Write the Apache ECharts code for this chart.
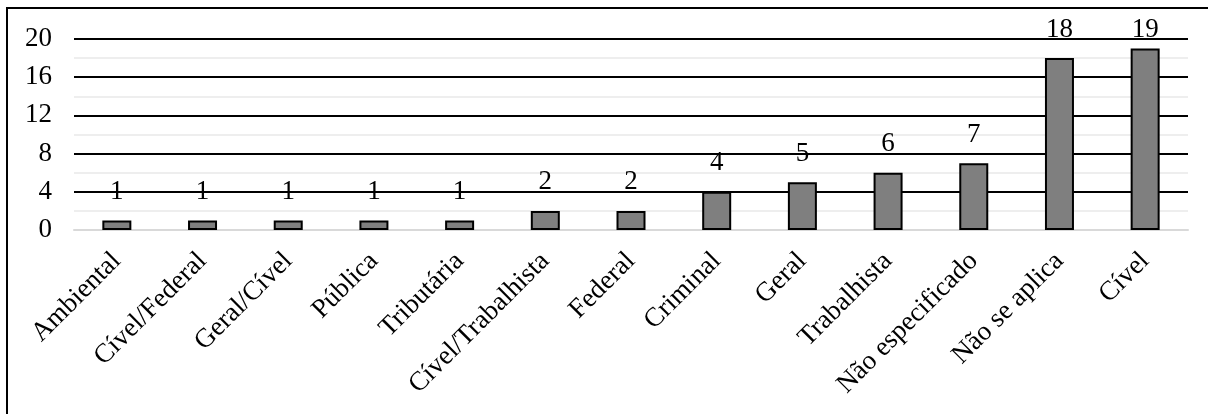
<!DOCTYPE html>
<html>
<head>
<meta charset="utf-8">
<script src="https://cdn.jsdelivr.net/npm/echarts@6/dist/echarts.min.js"></script>
<style>
  html, body { margin: 0; padding: 0; background: #fff; }
  #chart { width: 1208px; height: 414px; }
</style>
</head>
<body>
<div id="chart"></div>
<script>
// Case counts by area of law
const categories = ['Ambiental', 'Cível/Federal', 'Geral/Cível', 'Pública', 'Tributária',
  'Cível/Trabalhista', 'Federal', 'Criminal', 'Geral', 'Trabalhista',
  'Não especificado', 'Não se aplica', 'Cível'];
const counts = [1, 1, 1, 1, 1, 2, 2, 4, 5, 6, 7, 18, 19];
const yTicks = [0, 4, 8, 12, 16, 20];

const FONT = 'Liberation Serif';
const Y_MAX = yTicks[yTicks.length - 1];

// Labels near the top of the frame are pulled closer to their bar so they stay inside
const barData = counts.map(v => (v > Y_MAX - 2
  ? { value: v, label: { distance: 5 } }
  : v));

const chart = echarts.init(document.getElementById('chart'), null, { renderer: 'canvas' });
chart.setOption({
  animation: false,
  backgroundColor: '#fff',
  graphic: [{
    type: 'rect',
    shape: { x: 7, y: 8, width: 1400, height: 600 },
    style: { fill: 'none', stroke: '#000', lineWidth: 2 },
    silent: true,
    z: 100
  }],
  grid: {
    left: 74, right: 20, top: 39, bottom: 184,
    containLabel: false,
    outerBoundsMode: 'none'
  },
  xAxis: {
    type: 'category',
    data: categories,
    axisLine: { show: true, lineStyle: { color: '#d9d9d9', width: 2 } },
    axisTick: { show: false },
    axisLabel: {
      rotate: 45,
      interval: 0,
      margin: 27,
      color: '#000',
      fontFamily: FONT,
      fontSize: 27
    }
  },
  yAxis: {
    type: 'value',
    min: yTicks[0],
    max: Y_MAX,
    interval: 4,
    axisLine: { show: false },
    axisTick: { show: false },
    axisLabel: { margin: 22, color: '#000', fontFamily: FONT, fontSize: 27 },
    splitLine: { show: true, showMinLine: false, lineStyle: { color: '#000', width: 2 } },
    minorTick: { show: false, splitNumber: 2 },
    minorSplitLine: { show: true, lineStyle: { color: '#eeeeee', width: 2 } }
  },
  series: [{
    type: 'bar',
    data: barData,
    barWidth: 29,
    itemStyle: { color: '#7f7f7f', borderColor: '#000', borderWidth: 2 },
    label: {
      show: true,
      position: 'top',
      distance: 15,
      color: '#000',
      fontFamily: FONT,
      fontSize: 27
    },
    z: 5
  }]
});
</script>
</body>
</html>
